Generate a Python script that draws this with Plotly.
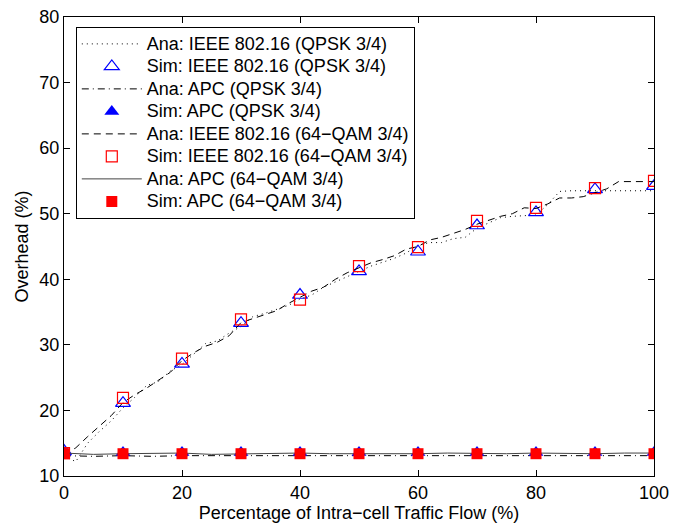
import plotly.graph_objects as go

# ---- data ----
x_ana = list(range(0, 101, 2))
ana_ieee_qpsk = [13.0, 12.2, 15.0, 16.8, 18.4, 20.4, 22.0, 23.8, 24.4, 26.0, 27.0,
                 28.6, 30.2, 30.6, 31.8, 32.8, 34.3, 34.8, 35.4, 36.0, 37.0,
                 37.6, 38.8, 39.6, 40.4, 41.2, 42.0, 42.6, 43.2, 44.0, 45.2,
                 45.6, 45.6, 46.2, 46.4, 47.8, 48.6, 49.4, 49.6, 49.7, 49.8,
                 51.4, 53.4, 53.5, 53.5, 53.5, 53.5, 53.5, 53.5, 53.5, 53.5]
ana_ieee_64qam = [13.2, 14.3, 16.0, 17.6, 19.2, 21.2, 22.4, 23.4, 24.6, 25.8, 27.6,
                  28.8, 29.8, 30.4, 31.4, 33.4, 34.0, 34.6, 35.2, 36.3, 37.3,
                  38.2, 38.8, 40.0, 41.0, 41.8, 42.5, 43.0, 43.6, 44.6, 45.0,
                  46.0, 46.4, 47.0, 47.6, 48.4, 49.0, 49.6, 50.0, 50.9, 50.8,
                  51.5, 52.4, 52.4, 52.6, 53.2, 53.8, 54.9, 54.9, 54.9, 54.9]

x_flat = list(range(0, 101, 5))
ana_apc_qpsk = [13.1, 13.0, 13.1, 13.0, 13.1, 13.1, 13.0, 13.1, 13.0, 13.1, 13.1,
                13.0, 13.1, 13.0, 13.1, 13.1, 13.0, 13.1, 13.0, 13.1, 13.1]
ana_apc_64qam = [13.5, 13.3, 13.4, 13.4, 13.5, 13.3, 13.4, 13.4, 13.5, 13.4, 13.4,
                 13.3, 13.4, 13.5, 13.4, 13.4, 13.5, 13.4, 13.4, 13.5, 13.5]

x_sim = list(range(0, 101, 10))
sim_ieee_qpsk = [13.8, 21.1, 27.1, 33.3, 37.6, 41.2, 44.2, 48.2, 50.2, 53.7, 54.2]
sim_apc_qpsk = [13.6, 13.6, 13.6, 13.6, 13.6, 13.6, 13.6, 13.6, 13.6, 13.6, 13.6]
sim_ieee_64qam = [13.5, 21.9, 27.9, 33.9, 36.9, 42.0, 44.9, 48.9, 50.9, 53.9, 55.0]
sim_apc_64qam = [13.4, 13.4, 13.4, 13.4, 13.4, 13.4, 13.4, 13.4, 13.4, 13.4, 13.4]

names = ["Ana: IEEE 802.16 (QPSK 3/4)", "Sim: IEEE 802.16 (QPSK 3/4)",
         "Ana: APC (QPSK 3/4)", "Sim: APC (QPSK 3/4)",
         "Ana: IEEE 802.16 (64\u2212QAM 3/4)", "Sim: IEEE 802.16 (64\u2212QAM 3/4)",
         "Ana: APC (64\u2212QAM 3/4)", "Sim: APC (64\u2212QAM 3/4)"]

FONT = "Liberation Sans, Arial, Helvetica, sans-serif"


def lg(n):
    # larger legend text while keeping the compact row pitch of the original
    return '<span style="font-size:18px">' + n + '</span>'


fig = go.Figure()

fig.add_trace(go.Scatter(x=x_ana, y=ana_ieee_qpsk, mode="lines", name=lg(names[0]),
                         line=dict(color="black", width=1, dash="1px,4px")))
fig.add_trace(go.Scatter(x=x_sim, y=sim_ieee_qpsk, mode="markers", name=lg(names[1]),
                         marker=dict(symbol="triangle-up-open", size=13, color="blue",
                                     line=dict(width=1.2, color="blue"))))
fig.add_trace(go.Scatter(x=x_flat, y=ana_apc_qpsk, mode="lines", name=lg(names[2]),
                         line=dict(color="black", width=1, dash="7px,4px,1px,4px")))
fig.add_trace(go.Scatter(x=x_sim, y=sim_apc_qpsk, mode="markers", name=lg(names[3]),
                         marker=dict(symbol="triangle-up", size=13, color="blue",
                                     line=dict(width=0))))
fig.add_trace(go.Scatter(x=x_ana, y=ana_ieee_64qam, mode="lines", name=lg(names[4]),
                         line=dict(color="black", width=1, dash="7px,5px")))
fig.add_trace(go.Scatter(x=x_sim, y=sim_ieee_64qam, mode="markers", name=lg(names[5]),
                         marker=dict(symbol="square-open", size=11, color="red",
                                     line=dict(width=1.2, color="red"))))
fig.add_trace(go.Scatter(x=x_flat, y=ana_apc_64qam, mode="lines", name=lg(names[6]),
                         line=dict(color="#444444", width=1)))
fig.add_trace(go.Scatter(x=x_sim, y=sim_apc_64qam, mode="markers", name=lg(names[7]),
                         marker=dict(symbol="square", size=11, color="red",
                                     line=dict(width=0))))

axis_common = dict(showline=True, linecolor="black", linewidth=1, mirror="ticks",
                   ticks="inside", ticklen=6, tickcolor="black", showgrid=False,
                   zeroline=False, ticklabeloverflow="allow",
                   tickfont=dict(family=FONT, size=18, color="black"))

fig.update_xaxes(range=[0, 100], tickvals=[0, 20, 40, 60, 80, 100],
                 title=dict(text="Percentage of Intra\u2212cell Traffic Flow (%)", standoff=4,
                            font=dict(family=FONT, size=18, color="black")),
                 **axis_common)
fig.update_yaxes(range=[10, 80], tickvals=[10, 20, 30, 40, 50, 60, 70, 80],
                 title=dict(text="Overhead (%)", standoff=6,
                            font=dict(family=FONT, size=18, color="black")),
                 **axis_common)

fig.update_layout(
    width=676, height=531,
    margin=dict(l=64, r=17, t=7, b=55),
    paper_bgcolor="white", plot_bgcolor="white",
    font=dict(family=FONT, size=18, color="black"),
    legend=dict(x=0.02, y=0.979, xanchor="left", yanchor="top",
                bgcolor="white", bordercolor="black", borderwidth=1,
                font=dict(family=FONT, size=15, color="black"),
                itemwidth=60, tracegroupgap=0),
    showlegend=True,
)

fig.write_html("out.html")
